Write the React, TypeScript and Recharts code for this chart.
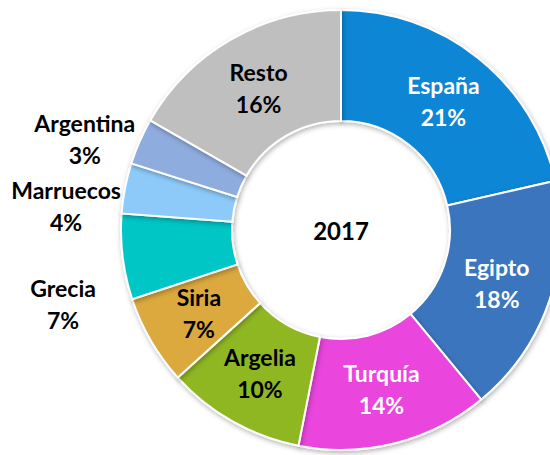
import React from "react";
import { PieChart, Pie, Cell } from "recharts";

const countries = ["España", "Egipto", "Turquía", "Argelia", "Siria", "Grecia", "Marruecos", "Argentina", "Resto"];
const shares = [21.4, 17.6, 14.1, 10.2, 6.6, 6.3, 3.7, 3.4, 16.7];
const percentLabels = ["21%", "18%", "14%", "10%", "7%", "7%", "4%", "3%", "16%"];
const colors = ["#0f86d5", "#3b74bd", "#ea45dd", "#8fb723", "#dba93e", "#03c6c6", "#8dcafa", "#8facdf", "#bfbfbf"];
const labelColors = ["#ffffff", "#ffffff", "#ffffff", "#000000", "#000000", "#000000", "#000000", "#000000", "#000000"];
const outsideLabels = ["Grecia", "Marruecos", "Argentina"];
const centerTitle = "2017";

const data = countries.map((name, i) => ({ name, value: shares[i] }));

const FONT = "Lato, 'Open Sans', sans-serif";
const RADIAN = Math.PI / 180;

const renderLabel = (props: any) => {
  const { cx, cy, midAngle, innerRadius, outerRadius, index } = props;
  const name = countries[index];
  const outside = outsideLabels.includes(name);
  const c = Math.cos(-midAngle * RADIAN);
  const s = Math.sin(-midAngle * RADIAN);
  let x: number;
  let y: number;
  if (outside) {
    x = cx + (outerRadius + 60) * c;
    y = cy + 36 + (outerRadius + 95) * s;
  } else {
    const r = (innerRadius + outerRadius) / 2;
    x = cx + r * c;
    y = cy + r * s;
  }
  return (
    <text
      key={`lbl-${index}`}
      x={x}
      y={y}
      textAnchor="middle"
      fill={labelColors[index]}
      fontFamily={FONT}
      fontWeight={700}
      fontSize={23}
    >
      <tspan x={x} y={y - 16} dominantBaseline="central">{name}</tspan>
      <tspan x={x} y={y + 16} dominantBaseline="central">{percentLabels[index]}</tspan>
    </text>
  );
};

export default function App() {
  return (
    <div style={{ position: "absolute", left: 0, top: 0, width: 550, height: 455, background: "#ffffff" }}>
      <svg width={0} height={0} style={{ position: "absolute" }}>
        <defs>
          <filter id="ringShadow" x="-20%" y="-20%" width="140%" height="140%">
            <feDropShadow dx="1" dy="2" stdDeviation="2.5" floodColor="#000000" floodOpacity="0.3" />
          </filter>
        </defs>
      </svg>
      <PieChart width={550} height={455} margin={{ top: 0, right: 0, bottom: 0, left: 0 }}>
        <Pie
          data={data}
          dataKey="value"
          nameKey="name"
          cx={341}
          cy={230}
          innerRadius={109}
          outerRadius={220}
          startAngle={90}
          endAngle={-270}
          stroke="#ffffff"
          strokeWidth={2}
          label={renderLabel}
          labelLine={false}
          isAnimationActive={false}
          style={{ filter: "url(#ringShadow)" }}
        >
          {data.map((d, i) => (
            <Cell key={d.name} fill={colors[i]} />
          ))}
        </Pie>
        <text x={341} y={230} textAnchor="middle" dominantBaseline="central" fontFamily={FONT} fontWeight={700} fontSize={24} fill="#000000">
          {centerTitle}
        </text>
      </PieChart>
    </div>
  );
}
